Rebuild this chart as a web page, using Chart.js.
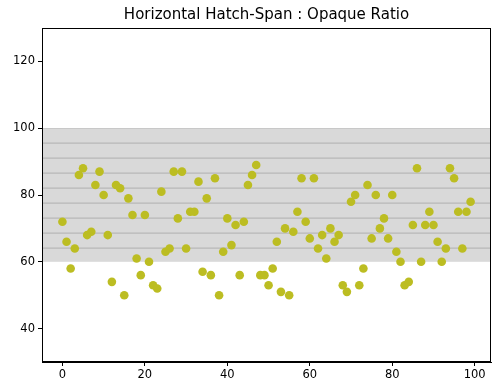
<!DOCTYPE html>
<html>
<head>
<meta charset="utf-8">
<script src="https://cdn.jsdelivr.net/npm/chart.js@4"></script>
<style>
  html, body { margin: 0; padding: 0; background: #fff; }
  #wrap { width: 500px; height: 392px; }
</style>
</head>
<body>
<div id="wrap"><canvas id="chart" width="500" height="392"></canvas></div>
<script>
/* ---------- data ---------- */
const chartTitle = "Horizontal Hatch-Span : Opaque Ratio";
const xValues = Array.from({ length: 100 }, (_, i) => i);
const yValues = [
  72, 66, 58, 64, 86, 88, 68, 69, 83, 87,
  80, 68, 54, 83, 82, 50, 79, 74, 61, 56,
  74, 60, 53, 52, 81, 63, 64, 87, 73, 87,
  64, 75, 75, 84, 57, 79, 56, 85, 50, 63,
  73, 65, 71, 56, 72, 83, 86, 89, 56, 56,
  53, 58, 66, 51, 70, 50, 69, 75, 85, 72,
  67, 85, 64, 68, 61, 70, 66, 68, 53, 51,
  78, 80, 53, 58, 83, 67, 80, 70, 73, 67,
  80, 63, 60, 53, 54, 71, 88, 60, 71, 75,
  71, 66, 60, 64, 88, 85, 75, 64, 75, 78
];
const spanRange = [60, 100];
const xTicks = [0, 20, 40, 60, 80, 100];
const yTicks = [40, 60, 80, 100, 120];

const FONT = "'DejaVu Sans', sans-serif";

/* ---------- hatched span, frame, title over the plot area ---------- */
const spanPlugin = {
  id: "hatchSpan",
  beforeDatasetsDraw(chart) {
    const { ctx, chartArea: a, scales: { y } } = chart;
    const top = y.getPixelForValue(spanRange[1]);
    const bot = y.getPixelForValue(spanRange[0]);
    ctx.save();
    ctx.fillStyle = "#d9d9d9";
    ctx.fillRect(a.left, top, a.right - a.left, bot - top);
    ctx.beginPath();
    ctx.rect(a.left, top, a.right - a.left, bot - top);
    ctx.clip();
    ctx.strokeStyle = "#b7b7b7";
    ctx.lineWidth = 1.3;
    for (let py = top; py < bot; py += 15) {
      ctx.beginPath();
      ctx.moveTo(a.left, py);
      ctx.lineTo(a.right, py);
      ctx.stroke();
    }
    ctx.restore();
  },
  afterDraw(chart) {
    const { ctx, chartArea: a } = chart;
    ctx.save();
    ctx.strokeStyle = "#000";
    ctx.lineWidth = 1;
    ctx.strokeRect(a.left + 0.5, a.top + 0.5, a.right - a.left - 1, a.bottom - a.top - 1);

    // title centred on the axes, like matplotlib
    ctx.fillStyle = "#000";
    ctx.font = "15px " + FONT;
    ctx.textAlign = "center";
    ctx.textBaseline = "middle";
    ctx.fillText(chartTitle, (a.left + a.right) / 2, 15);
    ctx.restore();
  }
};

new Chart(document.getElementById("chart"), {
  type: "scatter",
  data: {
    datasets: [{
      data: xValues.map((x, i) => ({ x: x, y: yValues[i] })),
      backgroundColor: "#bcbd22",
      borderColor: "#bcbd22",
      borderWidth: 0,
      pointRadius: 4.3,
      pointHoverRadius: 4.3
    }]
  },
  options: {
    responsive: false,
    animation: false,
    layout: { padding: { left: 0, right: 9, top: 28, bottom: 0 } },
    plugins: {
      legend: { display: false },
      tooltip: { enabled: false },
      title: { display: false }
    },
    scales: {
      x: {
        type: "linear",
        min: -4.95,
        max: 103.95,
        afterBuildTicks: (s) => { s.ticks = xTicks.map(v => ({ value: v })); },
        afterFit: (s) => { s.height = 30; },
        grid: { drawOnChartArea: false, drawTicks: true, tickLength: 4, tickColor: "#000" },
        border: { display: true, color: "#000" },
        ticks: { color: "#000", font: { family: FONT, size: 11.5 }, padding: 2, maxRotation: 0 }
      },
      y: {
        min: 30,
        max: 130,
        afterBuildTicks: (s) => { s.ticks = yTicks.map(v => ({ value: v })); },
        afterFit: (s) => { s.width = 42; },
        grid: { drawOnChartArea: false, drawTicks: true, tickLength: 4, tickColor: "#000" },
        border: { display: true, color: "#000" },
        ticks: { color: "#000", font: { family: FONT, size: 11.5 }, padding: 3 }
      }
    }
  },
  plugins: [spanPlugin]
});
</script>
</body>
</html>
